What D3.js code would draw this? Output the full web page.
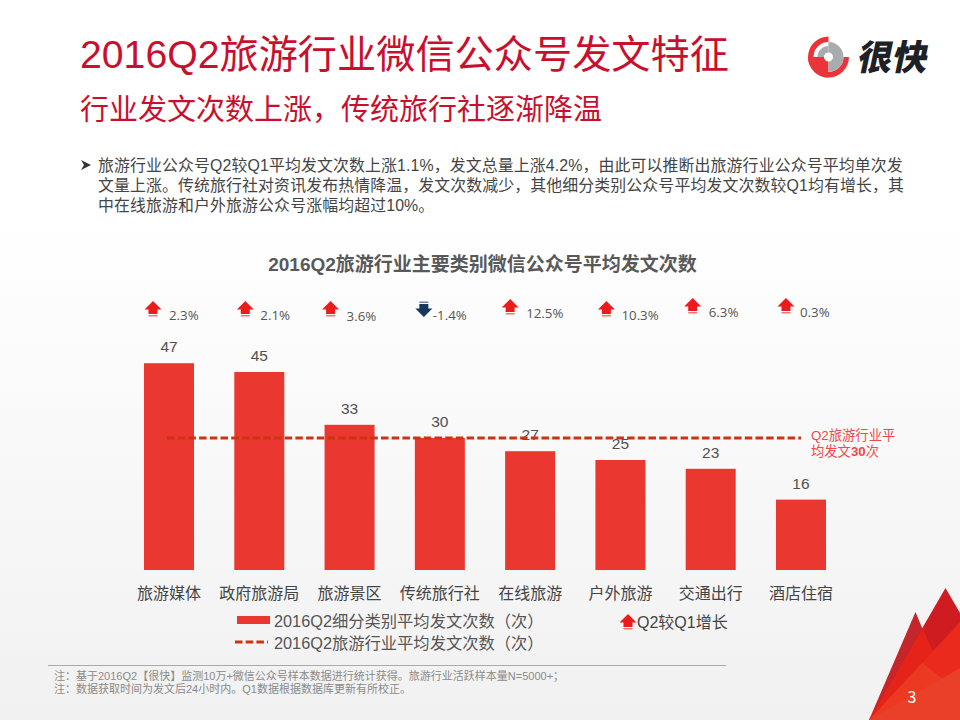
<!DOCTYPE html>
<html><head><meta charset="utf-8">
<script src="https://cdnjs.cloudflare.com/ajax/libs/d3/7.8.5/d3.min.js"></script>
<style>
html,body{margin:0;padding:0;background:#fff}
svg{display:block}
text{font-family:"Liberation Sans","Noto Sans CJK SC",sans-serif}
.cjk{font-family:"Noto Sans CJK SC",sans-serif}
</style></head><body>
<svg id="c" width="960" height="720"></svg>
<script>
const categories=["旅游媒体","政府旅游局","旅游景区","传统旅行社","在线旅游","户外旅游","交通出行","酒店住宿"];
const values=[47,45,33,30,27,25,23,16];
const changes=[2.3,2.1,3.6,-1.4,12.5,10.3,6.3,0.3];
const average=30;
const titleText="2016Q2旅游行业微信公众号发文特征";
const subtitleText="行业发文次数上涨，传统旅行社逐渐降温";
const bodyLines=["旅游行业公众号Q2较Q1平均发文次数上涨1.1%，发文总量上涨4.2%，由此可以推断出旅游行业公众号平均单次发","文量上涨。传统旅行社对资讯发布热情降温，发文次数减少，其他细分类别公众号平均发文次数较Q1均有增长，其","中在线旅游和户外旅游公众号涨幅均超过10%。"];
const chartTitle="2016Q2旅游行业主要类别微信公众号平均发文次数";
const legendBar="2016Q2细分类别平均发文次数（次）";
const legendLine="2016Q2旅游行业平均发文次数（次）";
const legendArrow="Q2较Q1增长";
const notes=["注：基于2016Q2【很快】监测10万+微信公众号样本数据进行统计获得。旅游行业活跃样本量N=5000+；","注：数据获取时间为发文后24小时内。Q1数据根据数据库更新有所校正。"];
const arrowDx=[-16,-14,-19,-16,-20,-14,-18,-15];
const arrowDy=[0,0,0,0,-2,0,-3,-3];
const labelDx=[0,1,-3,-7,-4,1,-2,-1];

const svg=d3.select("#c");
const defs=svg.append("defs");
const g=defs.append("linearGradient").attr("id","bg").attr("x1",0).attr("x2",0).attr("y1",0).attr("y2",1);
g.append("stop").attr("offset","0.3").attr("stop-color","#ffffff");
g.append("stop").attr("offset","1").attr("stop-color","#f1f1f1");
svg.append("rect").attr("width",960).attr("height",720).attr("fill","url(#bg)");

// decorative triangles
const tris=[
 {p:[[869,720],[915.5,612],[960,720]],f:"#c4262c"},
 {p:[[869,720],[945.5,588],[960,613],[960,720]],f:"#cf1c20"},
 {p:[[869,720],[922.6,628],[950,690],[960,720]],f:"#e62319"},
 {p:[[869,720],[960,622],[960,720]],f:"#e92a1c"},
 {p:[[869,720],[922,663],[942,678],[960,720]],f:"#ec3a22"},
 {p:[[869,720],[960,668],[960,720]],f:"#ea3f28"}];
svg.selectAll("polygon.t").data(tris).join("polygon").attr("points",d=>d.p.join(" ")).attr("fill",d=>d.f);
svg.append("text").attr("x",912).attr("y",703).attr("text-anchor","middle").attr("fill","#fff").attr("font-size",16).attr("class","cjk").text("3");

// header
svg.append("text").attr("x",80).attr("y",68).attr("fill","#c8102e").attr("font-size",39.2).text(titleText);
svg.append("text").attr("x",80).attr("y",120).attr("fill","#c8102e").attr("font-size",29).text(subtitleText);

// logo
const logo=svg.append("g").attr("transform","translate(828.5,57)");
const arc=d3.arc();
const P=Math.PI;
logo.append("path").attr("d",arc({innerRadius:15,outerRadius:20.5,startAngle:P/2,endAngle:2*P})).attr("fill","#e8343a");
logo.append("path").attr("d",arc({innerRadius:4.5,outerRadius:20.5,startAngle:P,endAngle:1.5*P})).attr("fill","#e8343a");
logo.append("path").attr("d",arc({innerRadius:4.5,outerRadius:15,startAngle:0,endAngle:P})).attr("fill","#a9abad");
logo.append("path").attr("d",arc({innerRadius:4.5,outerRadius:11,startAngle:-P/2,endAngle:0})).attr("fill","#a9abad");
svg.append("text").attr("transform","translate(856,70) skewX(-12)").attr("font-size",35).attr("font-weight",900).attr("fill","#1e2126").attr("class","cjk").text("很快");

// body text
svg.append("path").attr("d","M81,160 L91,165 L81,170 L84,165 Z").attr("fill","#333");
svg.selectAll("text.body").data(bodyLines).join("text").attr("class","body").attr("x",98).attr("y",(d,i)=>170.5+i*20)
 .attr("fill","#444").attr("font-size",15.9).attr("letter-spacing",0.12).text(d=>d);

// chart
const x=d3.scaleBand().domain(categories).range([144,826]).paddingInner(0.446).paddingOuter(0);
const y=d3.scaleLinear().domain([0,50]).range([570,350]);
svg.append("text").attr("x",482.5).attr("y",271).attr("text-anchor","middle").attr("fill","#595959").attr("font-size",19).attr("font-weight",700).text(chartTitle);

svg.selectAll("rect.bar").data(values).join("rect").attr("class","bar")
 .attr("x",(d,i)=>x(categories[i])).attr("width",x.bandwidth()).attr("y",d=>y(d)).attr("height",d=>y(0)-y(d)).attr("fill","#ea3830");

const cx=i=>x(categories[i])+x.bandwidth()/2;
svg.selectAll("text.val").data(values).join("text").attr("class","val")
 .attr("x",(d,i)=>cx(i)).attr("y",d=>y(d)-11).attr("text-anchor","middle").attr("fill","#505050").attr("font-size",15.5).text(d=>d);

const ax=svg.append("g").attr("transform","translate(0,570)").call(d3.axisBottom(x).tickSize(0).tickPadding(18));
ax.select(".domain").remove();
ax.selectAll("text").attr("font-size",16).attr("fill","#444").style("font-family",'"Noto Sans CJK SC",sans-serif');

// average line
svg.append("line").attr("x1",167).attr("x2",801).attr("y1",y(average)).attr("y2",y(average))
 .attr("stroke","#cc3310").attr("stroke-width",3).attr("stroke-dasharray","7.5,3.2");
const avgT=svg.append("g").attr("fill","#f04848").attr("font-size",13.3);
avgT.append("text").attr("x",811).attr("y",440).text("Q2旅游行业平");
const t2=avgT.append("text").attr("x",811).attr("y",456);
t2.append("tspan").text("均发文");t2.append("tspan").attr("font-weight",700).text(average);t2.append("tspan").text("次");

// arrows
function arrow(sel,cxv,cyv,up){
 const s=up?1:-1;
 const col=up?"#ec1c1c":"#17375e";
 const a=sel.append("g").attr("transform",`translate(${cxv},${cyv}) scale(1,${s})`);
 a.append("path").attr("d","M0,-8 L8.5,0.5 L4.5,0.5 L4.5,5 L-4.5,5 L-4.5,0.5 L-8.5,0.5 Z").attr("fill",col);
 a.append("rect").attr("x",-4.5).attr("y",6).attr("width",9).attr("height",1.5).attr("fill",col).attr("opacity",0.6);
}
changes.forEach((c,i)=>{
 arrow(svg,cx(i)+arrowDx[i],309+arrowDy[i],c>=0);
});
svg.selectAll("text.chg").data(changes).join("text").attr("class","chg")
 .attr("x",(d,i)=>cx(i)+labelDx[i]).attr("y",(d,i)=>320+arrowDy[i]+(i==2?1:0)).attr("fill","#555").attr("font-size",13.3)
 .style("font-family",'"Open Sans",sans-serif').text(d=>d+"%");

// legend
svg.append("rect").attr("x",237).attr("y",616).attr("width",33).attr("height",8).attr("fill","#ea3830");
svg.append("line").attr("x1",235).attr("x2",268).attr("y1",642).attr("y2",642).attr("stroke","#cc3310").attr("stroke-width",3).attr("stroke-dasharray","7.5,3.2");
svg.append("text").attr("x",274).attr("y",627).attr("fill","#555").attr("font-size",16.3).text(legendBar);
svg.append("text").attr("x",274).attr("y",649).attr("fill","#555").attr("font-size",16.3).text(legendLine);
arrow(svg,628,622,true);
svg.append("text").attr("x",637).attr("y",628).attr("fill","#444").attr("font-size",16).text(legendArrow);

// notes
svg.append("line").attr("x1",48).attr("x2",726).attr("y1",665.5).attr("y2",665.5).attr("stroke","#aaa");
svg.selectAll("text.note").data(notes).join("text").attr("class","note").attr("x",54).attr("y",(d,i)=>680+i*13)
 .attr("fill","#8a8a8a").attr("font-size",11).text(d=>d);
</script></body></html>
